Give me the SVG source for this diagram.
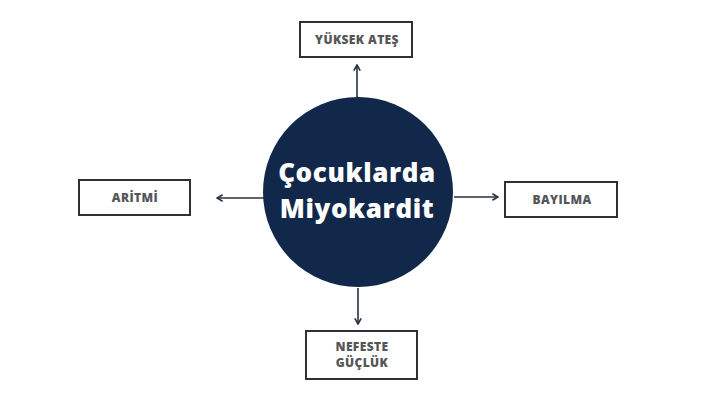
<svg xmlns="http://www.w3.org/2000/svg" width="712" height="400" viewBox="0 0 712 400">
<style>
.box{fill:#fff;stroke:#2f3033;stroke-width:2}
.lbl{font-family:"Open Sans","DejaVu Sans",sans-serif;font-weight:800;font-size:12px;fill:#555659;text-anchor:middle;letter-spacing:0.4px}
.title{font-family:"Open Sans","DejaVu Sans",sans-serif;font-weight:800;font-size:26px;fill:#fff;text-anchor:middle;letter-spacing:0.6px}
.conn{stroke:#253040;stroke-width:1.6;fill:none;marker-end:url(#arr)}
</style>
<defs>
<marker id="arr" viewBox="0 0 10 10" refX="9" refY="5" markerWidth="5" markerHeight="5" orient="auto" markerUnits="strokeWidth">
<polyline points="2,1 9,5 2,9" fill="none" stroke="#253040" stroke-width="2"/>
</marker>
</defs>
<rect width="712" height="400" fill="#fff"/>
<g id="connectors">
<line class="conn" x1="357" y1="97" x2="357" y2="65"/>
<line class="conn" x1="264" y1="198" x2="217" y2="198"/>
<line class="conn" x1="454" y1="197" x2="498" y2="197"/>
<line class="conn" x1="358" y1="288" x2="358" y2="324"/>
</g>
<g id="center">
<circle cx="358" cy="192" r="95" fill="#12284a"/>
<text class="title" x="357" y="182">Çocuklarda</text>
<text class="title" x="357" y="218">Miyokardit</text>
</g>
<g id="yuksek-ates">
<rect class="box" x="300" y="22" width="112" height="35"/>
<text class="lbl" x="357" y="44">YÜKSEK ATEŞ</text>
</g>
<g id="aritmi">
<rect class="box" x="79" y="180" width="111" height="35"/>
<text class="lbl" x="135" y="202">ARİTMİ</text>
</g>
<g id="bayilma">
<rect class="box" x="505" y="182" width="112" height="35"/>
<text class="lbl" x="562" y="204">BAYILMA</text>
</g>
<g id="nefeste-guclu">
<rect class="box" x="306" y="331" width="111" height="48"/>
<text class="lbl" x="362" y="351">NEFESTE</text>
<text class="lbl" x="362" y="367">GÜÇLÜK</text>
</g>
</svg>
